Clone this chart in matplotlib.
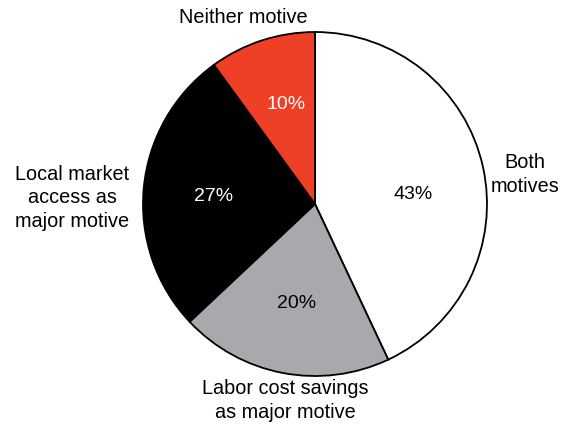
import matplotlib
matplotlib.use("Agg")
import matplotlib.pyplot as plt

categories = ["Both\nmotives", "Labor cost savings\nas major motive", "Local market\naccess as\nmajor motive", "Neither motive"]
values = [43, 20, 27, 10]
colors = ["#ffffff", "#a7a9ac", "#000000", "#ee4027"]
pct_colors = ["black", "black", "white", "white"]

plt.rcParams['font.family'] = ['Liberation Sans', 'DejaVu Sans']

fig = plt.figure(figsize=(5.61, 4.28), dpi=100)
ax = fig.add_axes([0.2549, 0.1215, 0.6132, 0.8037])
wedges, texts, autotexts = ax.pie(
    values, colors=colors, startangle=90, counterclock=False,
    autopct=lambda p: f"{p:.0f}%", pctdistance=0.58,
    wedgeprops=dict(edgecolor="black", linewidth=1.3),
    textprops=dict(fontsize=14))
pct_pos = [(0.57, 0.058), (-0.105, -0.581), (-0.59, 0.041), (-0.169, 0.576)]
for t, c, p in zip(autotexts, pct_colors, pct_pos):
    t.set_color(c)
    t.set_position(p)
ax.set_xlim(-1, 1)
ax.set_ylim(-1, 1)
ax.set_aspect("equal")

fs = 14.3
label_pos = [(1.221, 0.169), (-0.174, -1.14), (-1.413, 0.035), (-0.419, 1.087)]
for cat, (x, y) in zip(categories, label_pos):
    ax.text(x, y, cat, ha="center", va="center", fontsize=fs, linespacing=1.33, clip_on=False)

fig.savefig("out.png", dpi=100)
